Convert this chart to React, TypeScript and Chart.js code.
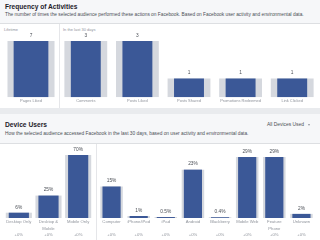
import React, { useEffect, useRef } from "react";
import { Chart, registerables } from "chart.js";
Chart.register(...registerables);

const FONT = "'Liberation Sans', Arial, Helvetica, sans-serif";
const BLUE = "#3b5897";
const TRACK = "#d5d8de";
const TICK = "#90949c";
const VALUE = "#4b4f56";

// Frequency of Activities
const lifetimeCategories = ["Pages Liked"];
const lifetimeValues = [7];
const recentCategories = ["Comments", "Posts Liked", "Posts Shared", "Promotions Redeemed", "Link Clicked"];
const recentValues = [3, 3, 1, 1, 1];

// Device Users
const usageCategories = [["Desktop Only"], ["Desktop &", "Mobile"], ["Mobile Only"]];
const usageValues = [6, 25, 70];
const usageLabels = ["6%", "25%", "70%"];
const usageChange = ["+0%", "+0%", "+0%"];
const deviceCategories = [["Computer"], ["iPhone/iPod"], ["iPad"], ["Android"], ["Blackberry"], ["Mobile Web"], ["Feature", "Phone"], ["Unknown"]];
const deviceValues = [15, 1, 0.5, 23, 0.4, 29, 29, 2];
const deviceLabels = ["15%", "1%", "0.5%", "23%", "0.4%", "29%", "29%", "2%"];
const deviceChange = ["+0%", "+0%", "+0%", "+0%", "+0%", "+0%", "+0%", "+0%"];

type BarProps = {
  labels: any[];
  values: number[];
  valueLabels: string[];
  width: number;
  height: number;
  padTop: number;
  padBottom: number;
  blueW: number;
  grayW: number;
  tickSize: number;
  tickLineHeight: number;
  valueSize: number;
  valueOffset: number;
};

function BarChart(p: BarProps) {
  const ref = useRef<HTMLCanvasElement>(null);
  useEffect(() => {
    if (!ref.current) return;
    const valuePlugin = {
      id: "valueLabels",
      afterDatasetsDraw(chart: any) {
        const ctx = chart.ctx;
        const meta = chart.getDatasetMeta(0);
        ctx.save();
        ctx.font = `${p.valueSize}px ${FONT}`;
        ctx.fillStyle = VALUE;
        ctx.textAlign = "center";
        ctx.textBaseline = "middle";
        meta.data.forEach((bar: any, i: number) => {
          ctx.fillText(p.valueLabels[i], bar.x, bar.y - p.valueOffset);
        });
        ctx.restore();
      },
    };
    const chart = new Chart(ref.current, {
      type: "bar",
      data: {
        labels: p.labels,
        datasets: [
          {
            data: p.values,
            backgroundColor: BLUE,
            barPercentage: p.blueW,
            categoryPercentage: 1,
            grouped: false,
          },
          {
            data: p.values,
            backgroundColor: TRACK,
            barPercentage: p.grayW,
            categoryPercentage: 1,
            grouped: false,
          },
        ],
      },
      options: {
        responsive: false,
        animation: false,
        layout: { padding: { top: p.padTop, bottom: p.padBottom, left: 0, right: 0 } },
        plugins: { legend: { display: false }, tooltip: { enabled: false } },
        scales: {
          x: {
            grid: { display: false, drawTicks: false },
            border: { display: false },
            ticks: {
              autoSkip: false,
              maxRotation: 0,
              minRotation: 0,
              padding: 1,
              color: TICK,
              font: { size: p.tickSize, family: FONT, lineHeight: p.tickLineHeight },
            },
          },
          y: { display: false, min: 0, max: Math.max(...p.values) },
        },
      },
      plugins: [valuePlugin],
    } as any);
    return () => chart.destroy();
  }, []);
  return <canvas ref={ref} width={p.width} height={p.height} style={{ width: p.width, height: p.height, display: "block" }} />;
}

function Text(props: { x: number; y: number; size: number; bold?: boolean; color: string; children: any; right?: number }) {
  const style: any = {
    position: "absolute",
    top: props.y - 5,
    lineHeight: "10px",
    height: 10,
    fontSize: props.size,
    fontWeight: props.bold ? 700 : 400,
    color: props.color,
    whiteSpace: "nowrap",
    fontFamily: FONT,
  };
  if (props.right !== undefined) style.right = props.right;
  else style.left = props.x;
  return <div style={style}>{props.children}</div>;
}

function Abs(props: { x: number; y: number; w: number; h: number; bg: string; children?: any; style?: any }) {
  return (
    <div style={{ position: "absolute", left: props.x, top: props.y, width: props.w, height: props.h, background: props.bg, ...(props.style || {}) }}>
      {props.children}
    </div>
  );
}

export default function App() {
  const withChange = (cats: string[][], change: string[]) =>
    cats.map((c, i) => (c.length > 1 ? [c[0], c[1], change[i]] : [c[0], "", change[i]]));
  return (
    <div style={{ position: "fixed", left: 0, top: 0, width: 320, height: 240, background: "#e9ebee", overflow: "hidden", fontFamily: FONT }}>
      {/* Panel 1 header */}
      <Abs x={0} y={0} w={320} h={23} bg="#f6f7f9" />
      <Abs x={0} y={23} w={320} h={1} bg="#dddfe2" />
      <Abs x={0} y={24} w={320} h={84} bg="#ffffff" />
      <Text x={5} y={7} size={6.6} bold color="#1d2129">Frequency of Activities</Text>
      <Text x={5} y={15} size={4.8} color="#4b4f56">
        The number of times the selected audience performed these actions on Facebook. Based on Facebook user activity and environmental data.
      </Text>
      <Abs x={59} y={24} w={1} h={84} bg="#e5e6e9" />
      <Text x={4} y={30} size={4} color={TICK}>Lifetime</Text>
      <Text x={63} y={30} size={4} color={TICK}>In the last 30 days</Text>
      <div style={{ position: "absolute", left: 3, top: 30 }}>
        <BarChart labels={lifetimeCategories} values={lifetimeValues} valueLabels={lifetimeValues.map(String)} width={56} height={78}
          padTop={11} padBottom={4} blueW={0.62} grayW={0.84} tickSize={4} tickLineHeight={1.2} valueSize={4.8} valueOffset={5.5} />
      </div>
      <div style={{ position: "absolute", left: 60, top: 30 }}>
        <BarChart labels={recentCategories} values={recentValues} valueLabels={recentValues.map(String)} width={258} height={78}
          padTop={11} padBottom={4} blueW={0.58} grayW={0.83} tickSize={4} tickLineHeight={1.2} valueSize={4.8} valueOffset={5.5} />
      </div>

      {/* Panel 2 header */}
      <Abs x={0} y={114} w={320} h={29} bg="#f6f7f9" />
      <Abs x={0} y={143} w={320} h={1} bg="#dddfe2" />
      <Abs x={0} y={144} w={320} h={96} bg="#ffffff" />
      <Text x={5} y={125} size={6.7} bold color="#1d2129">Device Users</Text>
      <Text x={5} y={134} size={4.8} color="#4b4f56">
        How the selected audience accessed Facebook in the last 30 days, based on user activity and environmental data.
      </Text>
      <Text x={267} y={125} size={4.9} color="#4b4f56">All Devices Used</Text>
      <div style={{ position: "absolute", left: 308, top: 124, width: 0, height: 0, borderLeft: "1.5px solid transparent", borderRight: "1.5px solid transparent", borderTop: "2px solid #90949c" }} />
      <Abs x={96} y={144} w={1} h={96} bg="#e5e6e9" />
      <div style={{ position: "absolute", left: 4, top: 143 }}>
        <BarChart labels={withChange(usageCategories, usageChange)} values={usageValues} valueLabels={usageLabels} width={89} height={97}
          padTop={12} padBottom={1} blueW={0.68} grayW={0.88} tickSize={4.2} tickLineHeight={1.5} valueSize={4.8} valueOffset={5.5} />
      </div>
      <div style={{ position: "absolute", left: 98, top: 143 }}>
        <BarChart labels={withChange(deviceCategories, deviceChange)} values={deviceValues} valueLabels={deviceLabels} width={217} height={97}
          padTop={14} padBottom={1} blueW={0.67} grayW={0.83} tickSize={4.2} tickLineHeight={1.5} valueSize={4.8} valueOffset={5.5} />
      </div>
    </div>
  );
}
